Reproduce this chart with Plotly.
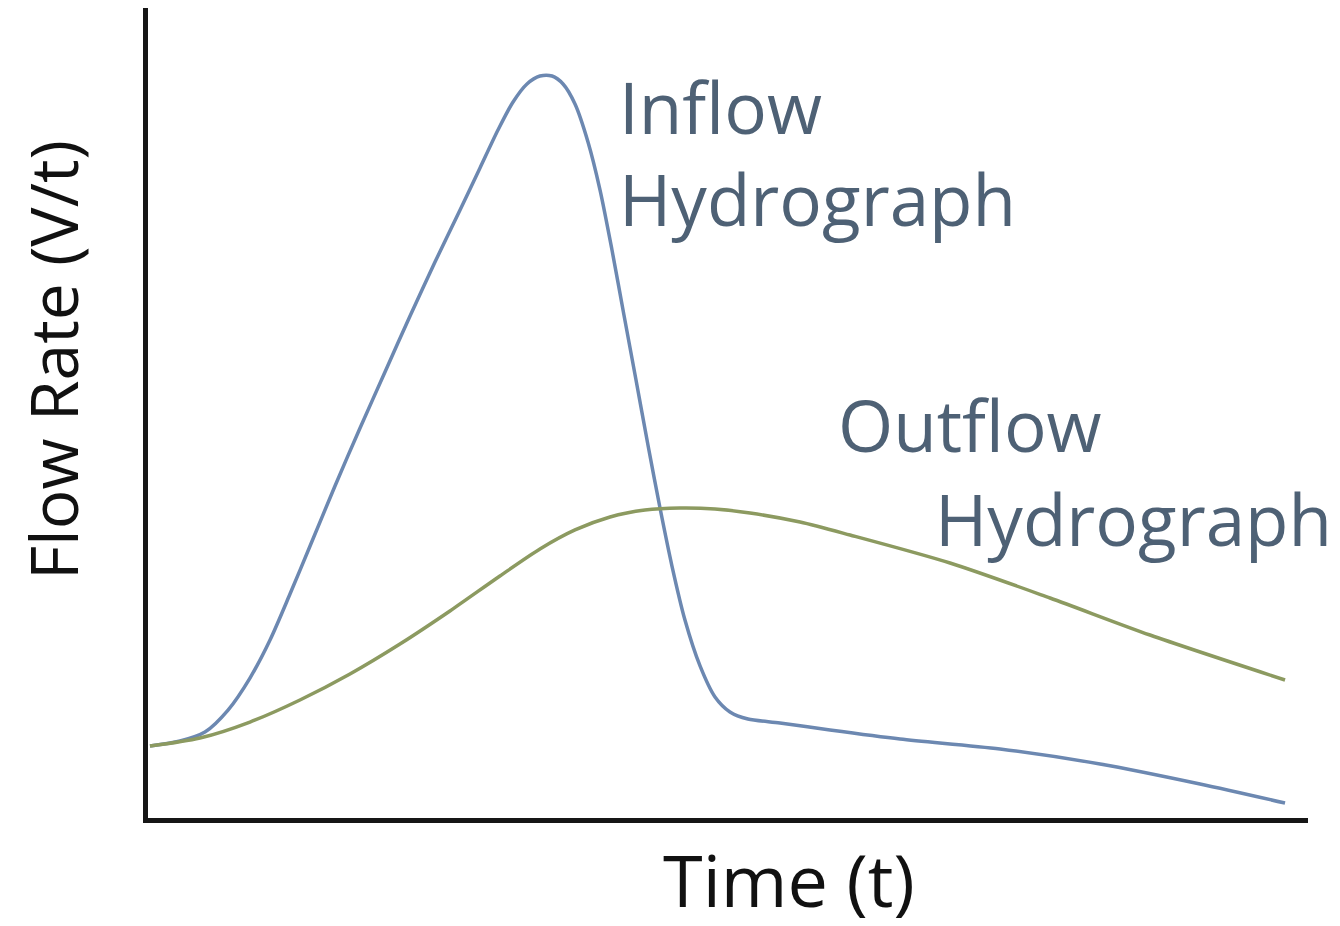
import plotly.graph_objects as go

# Time (arbitrary units, 0-100) and flow rate (arbitrary units, 0-100)
inflow_t = [0.17, 2.76, 4.91, 6.90, 8.79, 10.52, 12.24, 13.97, 16.12, 18.28, 20.43, 22.59, 24.74,
            26.90, 28.62, 30.17, 31.47, 32.67, 33.79, 34.83, 35.78, 36.81, 37.93, 38.97, 40.00,
            41.03, 42.07, 43.10, 44.14, 45.17, 46.29, 47.59, 48.88, 50.17, 51.72, 54.48, 58.79,
            64.83, 73.45, 82.07, 90.69, 98.02]
inflow_q = [8.89, 9.51, 10.62, 13.33, 17.28, 21.98, 27.65, 33.58, 40.99, 48.15, 55.06, 61.98, 68.64,
            75.06, 80.25, 84.94, 88.40, 90.62, 91.60, 91.60, 90.62, 88.15, 83.46, 77.53, 70.12,
            62.10, 54.07, 46.05, 38.27, 31.11, 24.44, 18.77, 14.94, 13.09, 12.22, 11.73, 10.86,
            9.75, 8.52, 6.67, 4.20, 1.85]

outflow_t = [0.17, 4.48, 8.79, 13.10, 17.41, 21.72, 26.03, 30.34, 33.79, 36.81, 39.83, 42.84,
             45.86, 48.88, 51.90, 56.21, 60.52, 69.14, 77.76, 86.38, 98.02]
outflow_q = [8.89, 9.88, 11.85, 14.57, 17.78, 21.48, 25.56, 29.88, 33.21, 35.56, 37.16, 38.02,
             38.27, 38.15, 37.65, 36.54, 34.94, 31.48, 27.16, 22.59, 17.04]

labels = ["Inflow", "Hydrograph", "Outflow", "Hydrograph"]
x_title = "Time (t)"
y_title = "Flow Rate (V/t)"

inflow_color = "#6c88b1"
outflow_color = "#8c9a60"
label_color = "#4e6175"
axis_color = "#161616"
font_family = "Open Sans, DejaVu Sans, sans-serif"

fig = go.Figure()
fig.add_trace(go.Scatter(x=inflow_t, y=inflow_q, mode="lines", name="Inflow Hydrograph",
                         line=dict(color=inflow_color, width=3.5, shape="spline", smoothing=0.8)))
fig.add_trace(go.Scatter(x=outflow_t, y=outflow_q, mode="lines", name="Outflow Hydrograph",
                         line=dict(color=outflow_color, width=3.5, shape="spline", smoothing=0.8)))

# Curve labels
ann_pos = [(40.4, 87.8), (40.4, 76.5), (59.3, 48.6), (67.7, 37.0)]
for txt, (ax_, ay_) in zip(labels, ann_pos):
    fig.add_annotation(x=ax_, y=ay_, text=txt, showarrow=False, xanchor="left", yanchor="middle",
                       font=dict(family=font_family, size=71, color=label_color))

# Axis titles
fig.add_annotation(x=0.5526, y=-0.0753, xref="paper", yref="paper", text=x_title, showarrow=False,
                   xanchor="center", yanchor="middle",
                   font=dict(family=font_family, size=72, color="#111111"))
fig.add_annotation(x=-0.0828, y=0.5654, xref="paper", yref="paper", text=y_title, showarrow=False,
                   textangle=-90, xanchor="center", yanchor="middle",
                   font=dict(family=font_family, size=66, color="#111111"))

fig.update_layout(
    width=1340, height=926,
    margin=dict(l=140, r=40, t=0, b=116),
    paper_bgcolor="white", plot_bgcolor="white",
    showlegend=False,
    font=dict(family=font_family, color="#111111"),
)
fig.update_xaxes(range=[0, 100], showline=True, linecolor=axis_color, linewidth=5,
                 showgrid=False, zeroline=False, showticklabels=False, ticks="")
fig.update_yaxes(range=[0, 100], showline=True, linecolor=axis_color, linewidth=5,
                 showgrid=False, zeroline=False, showticklabels=False, ticks="")

fig.write_html("out.html")
